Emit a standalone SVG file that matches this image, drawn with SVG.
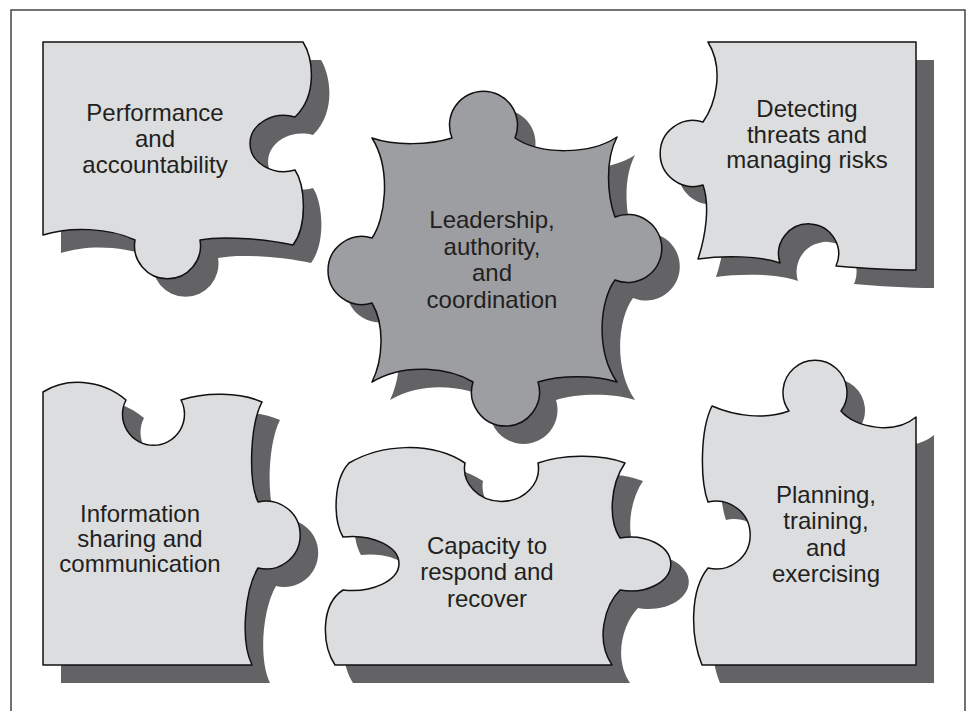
<svg xmlns="http://www.w3.org/2000/svg" xmlns:xlink="http://www.w3.org/1999/xlink" width="967" height="711" viewBox="0 0 967 711">
<style>
.piece{fill:#dcdddf;stroke:#111;stroke-width:1.5;stroke-linejoin:round}
.core{fill:#9d9ea1;stroke:#111;stroke-width:1.5;stroke-linejoin:round}
.shadow{fill:#636365;stroke:none}
.lbl{font-family:"Liberation Sans",Arial,sans-serif;font-size:24px;fill:#231f20;text-anchor:middle}
</style>
<defs>
<path id="p1" d="M 43 42 L 303 42 C 313 58, 318 95, 295 117 A 34 28 0 1 0 295 170 C 305 185, 308 225, 293 245 C 270 240, 225 235, 200 240 A 33 33 0 1 1 135 240 C 110 228, 70 226, 43 235 Z"/>
<path id="p2" d="M 372 138 C 395 146, 430 145, 452 138 A 34 34 0 1 1 515 138 C 540 155, 590 155, 617 137 C 605 160, 607 195, 615 217 A 34 34 0 1 1 615 280 C 600 300, 595 350, 617 382 C 595 375, 560 375, 538 382 A 34 34 0 1 1 473 382 C 450 368, 405 362, 372 382 C 383 360, 385 325, 372 303 A 34 34 0 1 1 372 238 C 385 220, 392 170, 372 138 Z"/>
<path id="p3" d="M 708 42 L 916 42 L 916 270 C 890 270, 860 268, 836 266 A 30 30 0 1 0 780 263 C 760 256, 725 255, 698 259 C 706 235, 710 205, 703 185 A 33 33 0 1 1 703 122 C 715 105, 725 70, 708 42 Z"/>
<path id="p4" d="M 43 392 C 65 378, 100 378, 126 400 A 31 31 0 1 0 181 400 C 205 392, 240 392, 262 402 C 250 425, 248 480, 258 502 A 34 34 0 1 1 258 568 C 245 590, 240 640, 252 665 L 43 665 Z"/>
<path id="p5" d="M 349 463 C 380 445, 430 440, 465 463 A 37 33 0 1 0 538 463 C 560 455, 600 453, 625 463 C 610 485, 608 520, 620 538 A 40 27 0 1 1 620 590 C 605 605, 595 640, 612 665 L 335 665 C 322 645, 320 605, 343 590 A 47 27 0 1 0 343 537 C 333 520, 333 480, 349 463 Z"/>
<path id="p6" d="M 712 406 C 735 416, 765 420, 789 411 A 32 32 0 1 1 841 411 C 855 428, 895 435, 916 417 L 916 665 L 702 665 C 690 635, 690 590, 708 568 A 34 34 0 1 0 708 502 C 700 480, 700 430, 712 406 Z"/>
</defs>
<rect x="11" y="10" width="954" height="720" fill="#ffffff" stroke="#444" stroke-width="1.5"/>
<g id="connectors"/>
<g id="performance">
<use xlink:href="#p1" href="#p1" class="shadow" transform="translate(18,18)"/>
<use xlink:href="#p1" href="#p1" class="piece"/>
<text class="lbl"><tspan x="155" y="121">Performance</tspan><tspan x="155" y="147">and</tspan><tspan x="155" y="173">accountability</tspan></text>
</g>
<g id="detecting">
<use xlink:href="#p3" href="#p3" class="shadow" transform="translate(18,18)"/>
<use xlink:href="#p3" href="#p3" class="piece"/>
<text class="lbl"><tspan x="807" y="117">Detecting</tspan><tspan x="807" y="143">threats and</tspan><tspan x="807" y="168">managing risks</tspan></text>
</g>
<g id="leadership">
<use xlink:href="#p2" href="#p2" class="shadow" transform="translate(18,18)"/>
<use xlink:href="#p2" href="#p2" class="core"/>
<text class="lbl"><tspan x="492" y="228">Leadership,</tspan><tspan x="492" y="255">authority,</tspan><tspan x="492" y="281">and</tspan><tspan x="492" y="308">coordination</tspan></text>
</g>
<g id="information">
<use xlink:href="#p4" href="#p4" class="shadow" transform="translate(18,18)"/>
<use xlink:href="#p4" href="#p4" class="piece"/>
<text class="lbl"><tspan x="140" y="522">Information</tspan><tspan x="140" y="547">sharing and</tspan><tspan x="140" y="572">communication</tspan></text>
</g>
<g id="capacity">
<use xlink:href="#p5" href="#p5" class="shadow" transform="translate(18,18)"/>
<use xlink:href="#p5" href="#p5" class="piece"/>
<text class="lbl"><tspan x="487" y="554">Capacity to</tspan><tspan x="487" y="580">respond and</tspan><tspan x="487" y="607">recover</tspan></text>
</g>
<g id="planning">
<use xlink:href="#p6" href="#p6" class="shadow" transform="translate(18,18)"/>
<use xlink:href="#p6" href="#p6" class="piece"/>
<text class="lbl"><tspan x="826" y="503">Planning,</tspan><tspan x="826" y="529">training,</tspan><tspan x="826" y="556">and</tspan><tspan x="826" y="582">exercising</tspan></text>
</g>
</svg>
